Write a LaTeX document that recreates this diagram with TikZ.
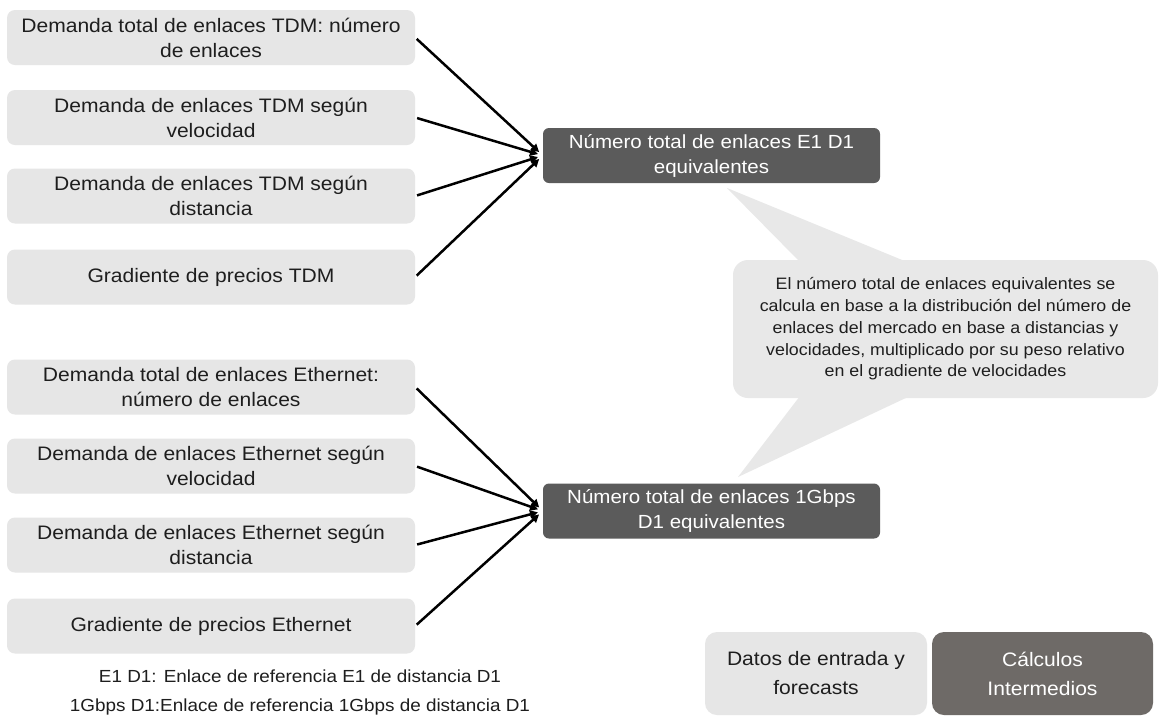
\documentclass[tikz,border=0pt]{standalone}
\usepackage{fontspec}
\setmainfont{Liberation Sans}[FakeStretch=1.08]
\usetikzlibrary{arrows.meta}
\definecolor{boxgray}{HTML}{E6E6E6}
\definecolor{darkbox}{HTML}{5B5B5B}
\definecolor{legdark}{HTML}{6E6A67}
\definecolor{callgray}{HTML}{E8E8E8}
\definecolor{txt}{HTML}{1E1E1E}
\begin{document}
\begin{tikzpicture}[x=1pt,y=-1pt,
  inbox/.style={fill=boxgray, rounded corners=8pt, minimum width=408pt, minimum height=55pt,
    align=center, inner sep=0pt, text=txt, font=\fontsize{19.5}{25}\selectfont},
  calcbox/.style={fill=darkbox, rounded corners=6pt, minimum width=337pt, minimum height=55pt,
    align=center, inner sep=0pt, text=white, font=\fontsize{19}{25}\selectfont},
  link/.style={line width=2.5pt, -{Triangle[length=8pt,width=8pt]}, shorten >=5pt, shorten <=2pt},
  callbox/.style={fill=callgray, rounded corners=15pt, minimum width=425pt, minimum height=138pt,
    align=center, inner sep=0pt, text=txt, font=\fontsize{16.5}{21.7}\selectfont},
  legbox/.style={rounded corners=12pt, minimum width=222pt, minimum height=83pt,
    align=center, inner sep=0pt, font=\fontsize{19.5}{29}\selectfont}
]
\useasboundingbox (0,0) rectangle (1159,721);
\fill[white] (0,0) rectangle (1159,721);

% input boxes TDM
\node[inbox] (t1) at (211,37.5) {Demanda total de enlaces TDM: número\\de enlaces};
\node[inbox] (t2) at (211,117.5) {Demanda de enlaces TDM según\\velocidad};
\node[inbox] (t3) at (211,196) {Demanda de enlaces TDM según\\distancia};
\node[inbox] (t4) at (211,277) {Gradiente de precios TDM};

% input boxes Ethernet
\node[inbox] (e1) at (211,387) {Demanda total de enlaces Ethernet:\\número de enlaces};
\node[inbox] (e2) at (211,466) {Demanda de enlaces Ethernet según\\velocidad};
\node[inbox] (e3) at (211,545) {Demanda de enlaces Ethernet según\\distancia};
\node[inbox] (e4) at (211,626) {Gradiente de precios Ethernet};

% callout pointers
\fill[callgray] (727,188) -- (907,262) -- (800,262) -- cycle;
\fill[callgray] (738,477) -- (800,396) -- (910,396) -- cycle;
\node[callbox] (note) at (945.5,329) {El número total de enlaces equivalentes se\\calcula en base a la distribución del número de\\enlaces del mercado en base a distancias y\\velocidades, multiplicado por su peso relativo\\en el gradiente de velocidades};

% calculation boxes
\node[calcbox] (r1) at (711.5,155.5) {Número total de enlaces E1 D1\\equivalentes};
\node[calcbox] (r2) at (711.5,511) {Número total de enlaces 1Gbps\\D1 equivalentes};

% connectors
\foreach \s in {t1,t2,t3,t4} \draw[link] (\s.east) -- (r1.west);
\foreach \s in {e1,e2,e3,e4} \draw[link] (\s.east) -- (r2.west);

% legend
\node[legbox, fill=boxgray, text=txt] (l1) at (816,673.5) {Datos de entrada y\\forecasts};
\node[legbox, fill=legdark, text=white, minimum width=221pt] (l2) at (1042.5,673.5) {Cálculos\\Intermedios};

% footnote
\node[align=center, inner sep=0pt, text=txt, font=\fontsize{17.5}{29}\selectfont] (fn) at (300,692)
  {E1 D1: Enlace de referencia E1 de distancia D1\\1Gbps D1:Enlace de referencia 1Gbps de distancia D1};
\end{tikzpicture}
\end{document}
